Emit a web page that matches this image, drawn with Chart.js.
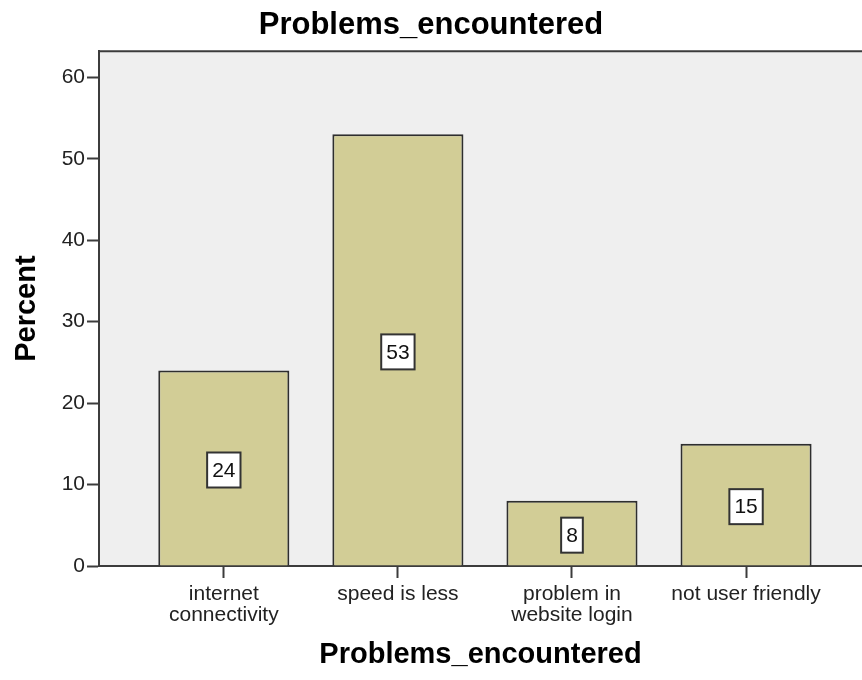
<!DOCTYPE html>
<html>
<head>
<meta charset="utf-8">
<title>Problems_encountered</title>
<script src="https://cdn.jsdelivr.net/npm/chart.js@4/dist/chart.umd.min.js"></script>
<style>
  body { margin: 0; background: #ffffff; }
  canvas { display: block; }
</style>
</head>
<body>
<canvas id="problems-chart" width="862" height="680"></canvas>
<script>
const categories = ['internet connectivity', 'speed is less', 'problem in website login', 'not user friendly'];
const tickLabels = [['internet', 'connectivity'], ['speed is less'], ['problem in', 'website login'], ['not user friendly']];
const percents = [24, 53, 8, 15];
const yTicks = [0, 10, 20, 30, 40, 50, 60];

const FONT = "'Liberation Sans', Arial, sans-serif";
const chartElement = document.getElementById('problems-chart');

// grey plot panel plus the frame line along its top
const panelPlugin = {
    id: 'panel',
    beforeDraw(chart) {
        const { ctx, chartArea } = chart;
        ctx.save();
        ctx.fillStyle = '#efefef';
        ctx.fillRect(chartArea.left, chartArea.top, chartArea.right - chartArea.left, chartArea.bottom - chartArea.top);
        ctx.strokeStyle = '#3c3c3c';
        ctx.lineWidth = 2;
        ctx.beginPath();
        ctx.moveTo(chartArea.left - 1, chartArea.top);
        ctx.lineTo(chartArea.right, chartArea.top);
        ctx.stroke();
        ctx.restore();
    }
};

// boxed value in the middle of every bar
const valueBoxPlugin = {
    id: 'valueBox',
    afterDatasetsDraw(chart) {
        const { ctx } = chart;
        const meta = chart.getDatasetMeta(0);
        ctx.save();
        ctx.font = '21px ' + FONT;
        ctx.textAlign = 'center';
        ctx.textBaseline = 'middle';
        meta.data.forEach((bar, i) => {
            const text = String(percents[i]);
            const w = ctx.measureText(text).width + 10;
            const h = 35;
            const cx = bar.x;
            const cy = (bar.y + bar.base) / 2 + 2;
            ctx.fillStyle = '#ffffff';
            ctx.fillRect(cx - w / 2, cy - h / 2, w, h);
            ctx.strokeStyle = '#333333';
            ctx.lineWidth = 2;
            ctx.strokeRect(cx - w / 2, cy - h / 2, w, h);
            ctx.fillStyle = '#111111';
            ctx.fillText(text, cx, cy + 1);
        });
        ctx.restore();
    }
};

new Chart(chartElement, {
    type: 'bar',
    data: {
        labels: categories,
        datasets: [{
            label: 'Percent',
            data: percents.map((v, i) => ({ x: i, y: v })),
            backgroundColor: '#d2cd96',
            borderColor: '#2e2e2e',
            borderWidth: 2,
            barPercentage: 0.753,
            categoryPercentage: 1
        }]
    },
    options: {
        responsive: false,
        animation: false,
        layout: { padding: 0 },
        plugins: {
            legend: { display: false },
            tooltip: { enabled: false },
            title: {
                display: true,
                text: 'Problems_encountered',
                color: '#000000',
                font: { family: FONT, size: 31, weight: 'bold' },
                padding: { top: 7, bottom: 7 }
            }
        },
        scales: {
            x: {
                type: 'linear',
                min: -0.717,
                max: 3.666,
                offset: false,
                afterFit(scale) { scale.height = 114; },
                afterBuildTicks(scale) { scale.ticks = categories.map((_, i) => ({ value: i })); },
                grid: {
                    offset: false,
                    drawOnChartArea: false,
                    drawTicks: true,
                    tickLength: 12,
                    tickWidth: 2,
                    tickColor: '#3c3c3c'
                },
                border: { display: true, color: '#3c3c3c', width: 2 },
                ticks: {
                    autoSkip: false,
                    maxRotation: 0,
                    padding: 6,
                    color: '#222222',
                    font: { family: FONT, size: 21, lineHeight: 1.0 },
                    callback: (value) => tickLabels[value]
                },
                title: {
                    display: true,
                    text: 'Problems_encountered',
                    color: '#000000',
                    font: { family: FONT, size: 29, weight: 'bold' },
                    padding: { top: 0, bottom: 8 }
                }
            },
            y: {
                min: 0,
                max: 63.2,
                afterFit(scale) { scale.width = 99; },
                afterBuildTicks(scale) { scale.ticks = yTicks.map(v => ({ value: v })); },
                grid: {
                    drawOnChartArea: false,
                    drawTicks: true,
                    tickLength: 12,
                    tickWidth: 2,
                    tickColor: '#3c3c3c'
                },
                border: { display: true, color: '#3c3c3c', width: 2 },
                ticks: {
                    padding: 2,
                    color: '#222222',
                    font: { family: FONT, size: 21 }
                },
                title: {
                    display: true,
                    text: 'Percent',
                    color: '#000000',
                    font: { family: FONT, size: 29, weight: 'bold' },
                    padding: { top: 10, bottom: 0 }
                }
            }
        }
    },
    plugins: [panelPlugin, valueBoxPlugin]
});
</script>
</body>
</html>
